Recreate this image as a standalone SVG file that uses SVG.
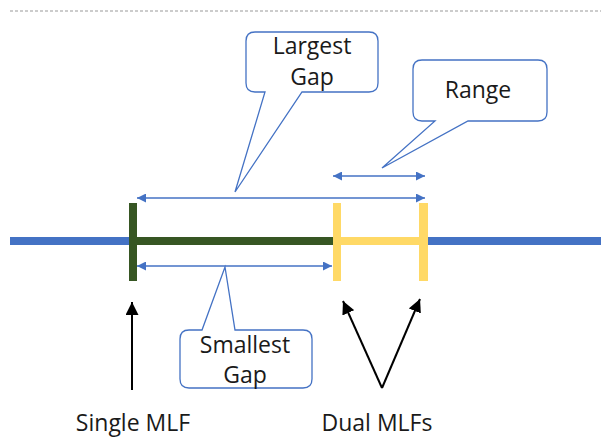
<svg xmlns="http://www.w3.org/2000/svg" width="601" height="439" viewBox="0 0 601 439">
<style>
.callout{fill:#fff;stroke:#4472C4;stroke-width:1.3}
.lbl{font-family:"Open Sans","Liberation Sans",sans-serif;font-size:23px;fill:#1a1a1a;text-anchor:middle}
.dim{stroke:#4472C4;stroke-width:1.3;fill:none;marker-start:url(#bh);marker-end:url(#bh)}
.blk{stroke:#000;stroke-width:2;fill:none;marker-end:url(#kh)}
</style>
<defs>
<marker id="bh" viewBox="0 0 10 10" refX="10" refY="5" markerWidth="9" markerHeight="9" markerUnits="userSpaceOnUse" orient="auto-start-reverse"><path d="M0,0 L10,5 L0,10 Z" fill="#4472C4"/></marker>
<marker id="kh" viewBox="0 0 10 10" refX="10" refY="5" markerWidth="13" markerHeight="13" markerUnits="userSpaceOnUse" orient="auto"><path d="M0,0 L10,5 L0,10 Z" fill="#000"/></marker>
</defs>
<line x1="10" y1="11" x2="601" y2="11" stroke="#999" stroke-width="1" stroke-dasharray="3,2"/>
<g id="axis">
<rect x="10" y="237" width="591" height="8" fill="#4472C4"/>
<rect x="133" y="237" width="200" height="8" fill="#375623"/>
<rect x="337" y="237" width="87" height="8" fill="#FFD966"/>
</g>
<g id="single-mlf"><rect x="129" y="203" width="8" height="78" fill="#375623"/></g>
<g id="dual-mlf-1"><rect x="333" y="203" width="8" height="78" fill="#FFD966"/></g>
<g id="dual-mlf-2"><rect x="419" y="203" width="9" height="78" fill="#FFD966"/></g>
<g id="connectors">
<line class="dim" x1="137" y1="198" x2="425" y2="198"/>
<line class="dim" x1="333" y1="176" x2="425" y2="176"/>
<line class="dim" x1="137" y1="266" x2="332" y2="266"/>
<line class="blk" x1="132" y1="390" x2="132" y2="302"/>
<line class="blk" x1="382" y1="388" x2="343" y2="301"/>
<line class="blk" x1="382" y1="388" x2="420" y2="299"/>
</g>
<g id="largest-gap">
<path class="callout" d="M255,32 H369 Q378,32 378,41 V83 Q378,92 369,92 H302 L235,192 L265,92 H255 Q246,92 246,83 V41 Q246,32 255,32 Z"/>
<text class="lbl" x="312" y="54">Largest</text>
<text class="lbl" x="312" y="85">Gap</text>
</g>
<g id="range">
<path class="callout" d="M422,60 H538 Q547,60 547,69 V112 Q547,121 538,121 H468 L382,168 L435,121 H422 Q413,121 413,112 V69 Q413,60 422,60 Z"/>
<text class="lbl" x="478" y="98">Range</text>
</g>
<g id="smallest-gap">
<path class="callout" d="M189,330 H202 L225,267 L235,330 H303 Q312,330 312,339 V379 Q312,388 303,388 H189 Q180,388 180,379 V339 Q180,330 189,330 Z"/>
<text class="lbl" x="245" y="353">Smallest</text>
<text class="lbl" x="245" y="383">Gap</text>
</g>
<g id="labels">
<text class="lbl" x="133" y="431">Single MLF</text>
<text class="lbl" x="377" y="431">Dual MLFs</text>
</g>
</svg>
